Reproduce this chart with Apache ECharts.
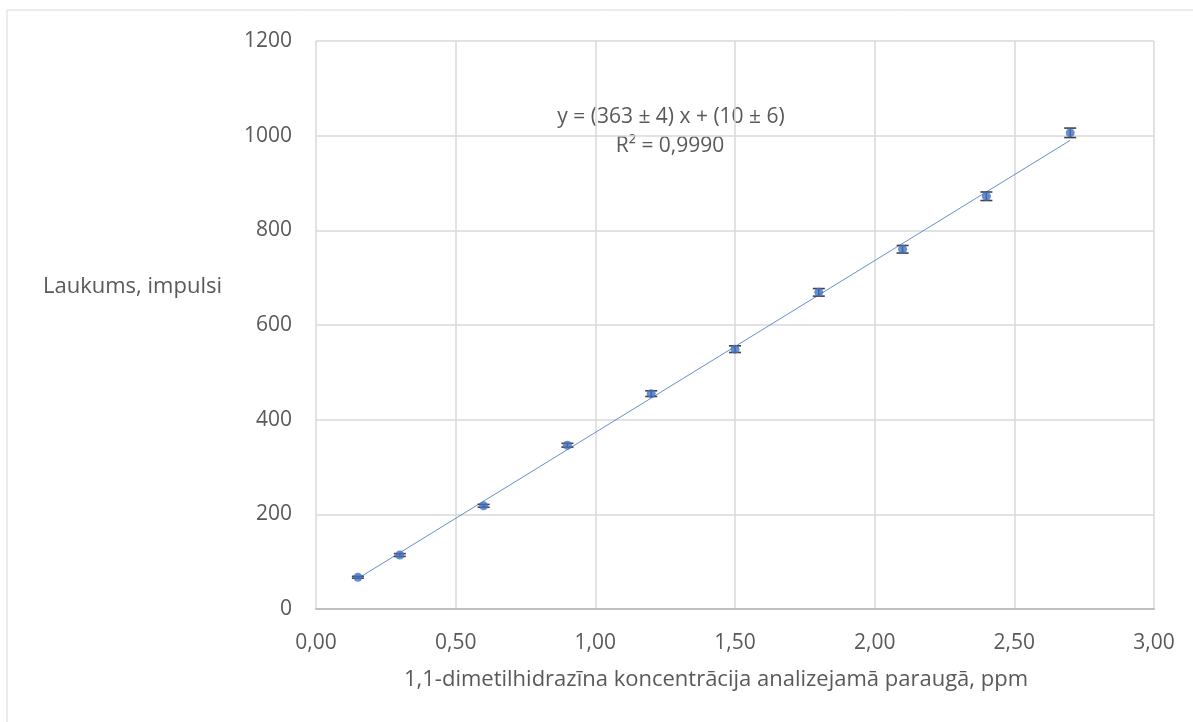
<!DOCTYPE html>
<html>
<head>
<meta charset="utf-8">
<script src="https://cdn.jsdelivr.net/npm/echarts@6/dist/echarts.min.js"></script>
<style>
html,body{margin:0;padding:0;background:#fff;}
#chart{width:1193px;height:722px;}
</style>
</head>
<body>
<div id="chart"></div>
<script>
// ---- data ----
const concentrations = [0.15, 0.30, 0.60, 0.90, 1.20, 1.50, 1.80, 2.10, 2.40, 2.70];
const areas = [67, 114, 218, 346, 455, 549, 669, 760, 872, 1006];
const areaErrors = [2, 3, 3, 4, 6, 7, 8, 8, 9, 10];
const fitSlope = 363;
const fitIntercept = 10;
const equationText = 'y = (363 ± 4) x + (10 ± 6)';
const r2Text = 'R² = 0,9990';
const xTitle = '1,1-dimetilhidrazīna koncentrācija analizejamā paraugā, ppm';
const yTitle = 'Laukums, impulsi';

const FONT = '"Open Sans", "Noto Sans", sans-serif';
const TXT = '#595959';

const points = concentrations.map((x, i) => [x, areas[i]]);
const errData = concentrations.map((x, i) => [x, areas[i], areaErrors[i]]);
const xMin = Math.min(...concentrations), xMax = Math.max(...concentrations);
const trend = [[xMin, fitSlope * xMin + fitIntercept], [xMax, fitSlope * xMax + fitIntercept]];

const chart = echarts.init(document.getElementById('chart'), null, {renderer: 'canvas'});
chart.setOption({
  animation: false,
  backgroundColor: '#fff',
  grid: {left: 316, right: 39, top: 41, bottom: 113, containLabel: false},
  xAxis: {
    type: 'value', min: 0, max: 3, interval: 0.5,
    axisLine: {show: true, lineStyle: {color: '#BFBFBF', width: 2}},
    axisTick: {show: false},
    splitLine: {show: true, lineStyle: {color: '#D9D9D9', width: 1.5}},
    axisLabel: {
      margin: 24, color: TXT, fontSize: 21, fontFamily: FONT,
      formatter: v => v.toFixed(2).replace('.', ',')
    }
  },
  yAxis: {
    type: 'value', min: 0, max: 1200, interval: 200,
    axisLine: {show: false},
    axisTick: {show: false},
    splitLine: {show: true, lineStyle: {color: '#D9D9D9', width: 1.5}},
    axisLabel: {margin: 24, color: TXT, fontSize: 21, fontFamily: FONT,
      formatter: v => String(v)}
  },
  graphic: [
    {type: 'rect', shape: {x: 7, y: 10, width: 1400, height: 900},
     style: {fill: 'none', stroke: '#D9D9D9', lineWidth: 1}, silent: true, z: -10},
    {type: 'text', x: 43, y: 287,
     style: {text: yTitle, fill: TXT, font: '22px ' + FONT, textAlign: 'left', textVerticalAlign: 'middle'}},
    {type: 'text', x: 716, y: 680,
     style: {text: xTitle, fill: TXT, font: '22px ' + FONT, textAlign: 'center', textVerticalAlign: 'middle'}},
    {type: 'text', x: 671, y: 117,
     style: {text: equationText, fill: TXT, font: '21px ' + FONT, textAlign: 'center', textVerticalAlign: 'middle'}},
    {type: 'text', x: 670, y: 146,
     style: {text: r2Text, fill: TXT, font: '21px ' + FONT, textAlign: 'center', textVerticalAlign: 'middle'}}
  ],
  series: [
    {
      type: 'line', data: trend, symbol: 'none', silent: true,
      lineStyle: {color: '#4472C4', width: 0.9, opacity: 0.9}, z: 2
    },
    {
      type: 'custom', data: errData, z: 3, silent: true,
      renderItem: function (params, api) {
        const x = api.value(0), y = api.value(1), e = api.value(2);
        const top = api.coord([x, y + e]);
        const bot = api.coord([x, y - e]);
        const hw = 6;
        const st = {stroke: '#404040', lineWidth: 1.6};
        return {
          type: 'group',
          children: [
            {type: 'line', shape: {x1: top[0], y1: top[1], x2: bot[0], y2: bot[1]}, style: st},
            {type: 'line', shape: {x1: top[0] - hw, y1: top[1], x2: top[0] + hw, y2: top[1]}, style: st},
            {type: 'line', shape: {x1: bot[0] - hw, y1: bot[1], x2: bot[0] + hw, y2: bot[1]}, style: st}
          ]
        };
      }
    },
    {
      type: 'scatter', data: points, symbol: 'circle', symbolSize: 9,
      itemStyle: {color: '#4472C4'}, z: 4
    }
  ]
});
</script>
</body>
</html>
